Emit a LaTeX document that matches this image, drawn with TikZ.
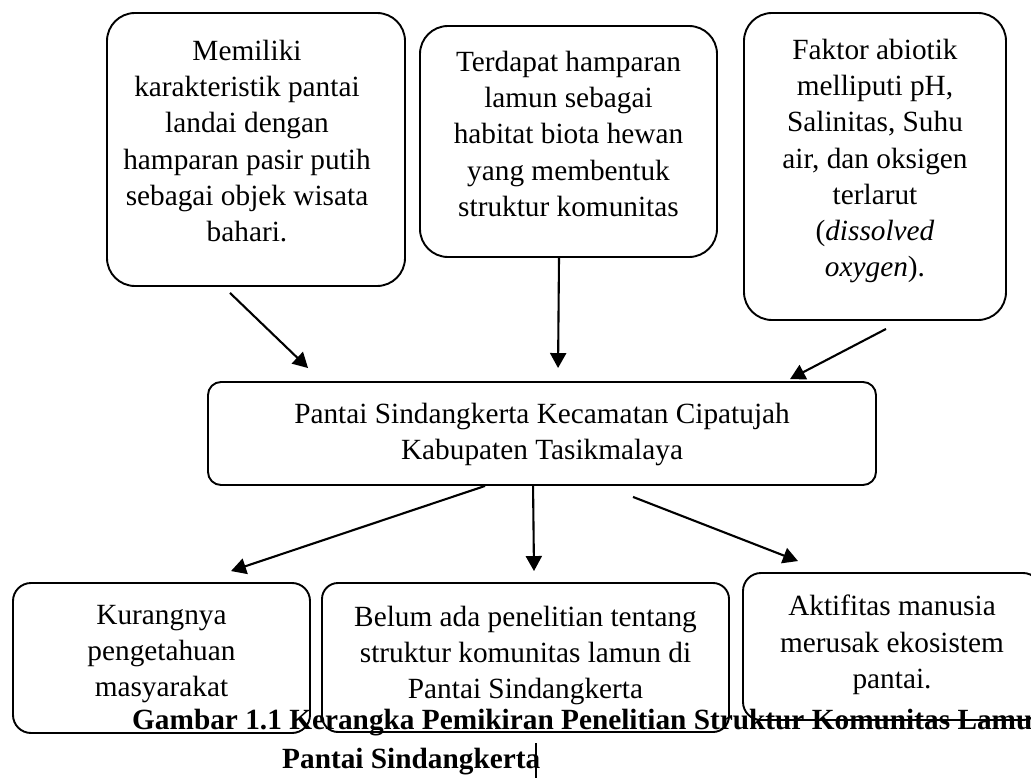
\documentclass[tikz,border=0pt]{standalone}
\usepackage{fontspec}
\setmainfont{Liberation Serif}
\usetikzlibrary{arrows.meta,calc}
\tikzset{
  box/.style={draw=black, line width=1.9pt, inner sep=0pt, fill=none},
  topbox/.style={box, rounded corners=28pt},
  midbox/.style={box, rounded corners=13pt},
  botbox/.style={box, rounded corners=18pt},
  txt/.style={font=\fontsize{29.3}{36.2}\selectfont, align=center, inner sep=0pt, anchor=north},
  captxt/.style={font=\fontsize{29.3}{36.2}\selectfont\bfseries, inner sep=0pt, anchor=base west},
  arr/.style={line width=2.1pt, -{Triangle[length=15pt,width=16pt]}}
}
\begin{document}
\begin{tikzpicture}[x=1pt,y=-1pt]
\useasboundingbox (0,0) rectangle (1031,778);
\clip (0,0) rectangle (1031,778);
% top boxes
\node[topbox, minimum width=298pt, minimum height=273pt] (A) at (256,149.5) {};
\node[txt] (At) at (247,40) {Memiliki\\karakteristik pantai\\landai dengan\\hamparan pasir putih\\sebagai objek wisata\\bahari.};
\node[topbox, minimum width=297pt, minimum height=231pt] (B) at (568.5,141.5) {};
\node[txt] (Bt) at (568.5,51) {Terdapat hamparan\\lamun sebagai\\habitat biota hewan\\yang membentuk\\struktur komunitas};
\node[topbox, minimum width=262pt, minimum height=307pt] (C) at (875,166.5) {};
\node[txt] (Ct) at (875,39) {Faktor abiotik\\melliputi pH,\\Salinitas, Suhu\\air, dan oksigen\\terlarut\\(\textit{dissolved}\\\textit{oxygen}).};
% middle box
\node[midbox, minimum width=668pt, minimum height=103pt] (M) at (542,433.5) {};
\node[txt] (Mt) at (542,403) {Pantai Sindangkerta Kecamatan Cipatujah\\Kabupaten Tasikmalaya};
% bottom boxes
\node[botbox, minimum width=297pt, minimum height=150pt] (D) at (161.5,658) {};
\node[txt] (Dt) at (161.5,605) {Kurangnya\\pengetahuan\\masyarakat};
\node[botbox, minimum width=407pt, minimum height=149pt, rounded corners=16pt] (E) at (525.5,657.5) {};
\node[txt] (Et) at (525.5,606) {Belum ada penelitian tentang\\struktur komunitas lamun di\\Pantai Sindangkerta};
\node[botbox, minimum width=298pt, minimum height=147pt] (F) at (892,646.5) {};
\node[txt] (Ft) at (892,595) {Aktifitas manusia\\merusak ekosistem\\pantai.};
% arrows
\draw[arr] ($(A.south)+(-26,6)$) -- ($(M.north west)+(101,-13)$);
\draw[arr] ($(B.south)+(-9.5,0)$) -- ($(M.north west)+(351,-13)$);
\draw[arr] ($(C.south)+(11,8)$) -- ($(M.north west)+(583,-2)$);
\draw[arr] ($(M.south west)+(278,0)$) -- ($(D.north)+(69.5,-11)$);
\draw[arr] ($(M.south west)+(326,0)$) -- ($(E.north)+(8.5,-11)$);
\draw[arr] ($(M.south west)+(426,11)$) -- ($(F.north)+(-94,-11)$);
% caption
\node[captxt] (cap1) at (132,729) {Gambar 1.1 Kerangka Pemikiran Penelitian Struktur Komunitas Lamu};
\node[captxt] (cap2) at (282,768) {Pantai Sindangkerta};
% text cursor
\coordinate (cur1) at (536,743);
\coordinate (cur2) at (536,778);
\draw[line width=1.3pt] (cur1) -- (cur2);
\end{tikzpicture}
\end{document}
